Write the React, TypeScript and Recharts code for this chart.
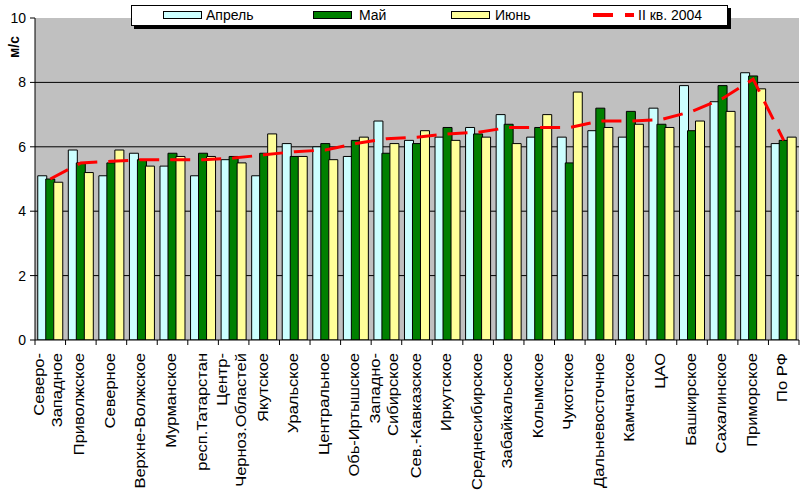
import React from 'react';
import { ComposedChart, Bar, Line, XAxis, YAxis, CartesianGrid } from 'recharts';

const categories = [
  'Северо-\nЗападное', 'Приволжское', 'Северное', 'Верхне-Волжское', 'Мурманское',
  'респ.Татарстан', 'Центр-\nЧерноз.Областей', 'Якутское', 'Уральское', 'Центральное',
  'Обь-Иртышское', 'Западно-\nСибирское', 'Сев.-Кавказское', 'Иркутское', 'Среднесибирское',
  'Забайкальское', 'Колымское', 'Чукотское', 'Дальневосточное', 'Камчатское',
  'ЦАО', 'Башкирское', 'Сахалинское', 'Приморское', 'По РФ',
];
const april = [5.1, 5.9, 5.1, 5.8, 5.4, 5.1, 5.6, 5.1, 6.1, 6.0, 5.7, 6.8, 6.2, 6.3, 6.6, 7.0, 6.3, 6.3, 6.5, 6.3, 7.2, 7.9, 7.4, 8.3, 6.1];
const may = [5.0, 5.5, 5.5, 5.6, 5.8, 5.8, 5.7, 5.8, 5.7, 6.1, 6.2, 5.8, 6.1, 6.6, 6.4, 6.7, 6.6, 5.5, 7.2, 7.1, 6.7, 6.5, 7.9, 8.2, 6.2];
const june = [4.9, 5.2, 5.9, 5.4, 5.7, 5.7, 5.5, 6.4, 5.7, 5.6, 6.3, 6.1, 6.5, 6.2, 6.3, 6.1, 7.0, 7.7, 6.6, 6.7, 6.6, 6.8, 7.1, 7.8, 6.3];
const quarter = [5.0, 5.5, 5.55, 5.6, 5.6, 5.6, 5.65, 5.75, 5.85, 5.9, 6.1, 6.25, 6.3, 6.4, 6.45, 6.6, 6.6, 6.6, 6.8, 6.8, 6.85, 7.1, 7.5, 8.1, 6.2];
const yTicks = [0, 2, 4, 6, 8, 10];
const gridValues = [2, 4, 6, 8];
const seriesNames = ['Апрель', 'Май', 'Июнь', 'II кв. 2004'];
const yTitle = 'м/с';

const data = categories.map((c, i) => ({
  name: c,
  april: april[i],
  may: may[i],
  june: june[i],
  quarter: quarter[i],
}));

const FONT = '"Liberation Sans", Arial, sans-serif';
const W = 804;
const H = 492;
const PLOT_LEFT = 35;
const PLOT_RIGHT = 799;
const PLOT_TOP = 18;
const PLOT_BOTTOM = 340;
const BAND = (PLOT_RIGHT - PLOT_LEFT) / categories.length;

const COLORS = ['#CCFFFF', '#008000', '#FFFF99', '#FF0000'];

function XTick(props: any) {
  const { x, payload, index } = props;
  const lines = String(payload.value).split('\n');
  const isLast = index === categories.length - 1;
  const offsets = lines.length === 1 ? [3.5] : [-6.5, 12];
  return (
    <g>
      <line x1={x - BAND / 2} x2={x - BAND / 2} y1={PLOT_BOTTOM} y2={PLOT_BOTTOM + 5} stroke="#000" />
      {isLast && <line x1={x + BAND / 2} x2={x + BAND / 2} y1={PLOT_BOTTOM} y2={PLOT_BOTTOM + 5} stroke="#000" />}
      {lines.map((l, i) => (
        <text
          key={i}
          transform={`translate(${x + offsets[i]}, ${PLOT_BOTTOM + 13}) rotate(-90) scale(1.1, 1)`}
          textAnchor="end"
          fontSize={15}
          fontFamily={FONT}
          fill="#000"
        >
          {l}
        </text>
      ))}
    </g>
  );
}

function LegendBox() {
  const items = [
    { x: 163, textX: 206 },
    { x: 313, textX: 359 },
    { x: 451, textX: 495 },
    { x: 593, textX: 638 },
  ];
  return (
    <svg
      width={610}
      height={30}
      style={{ position: 'absolute', left: 128, top: 2, overflow: 'visible' }}
    >
      <g transform="translate(-128,-2)">
        <rect x={134} y={8} width={597} height={21} fill="#000" />
        <rect x={131.5} y={5.5} width={596} height={20} fill="#fff" stroke="#000" strokeWidth={1} />
        {seriesNames.map((n, i) => (
          <g key={n}>
            {i < 3 ? (
              <rect x={items[i].x + 0.5} y={11.5} width={38} height={7} fill={COLORS[i]} stroke="#000" />
            ) : (
              <g>
                <line x1={items[i].x} x2={items[i].x + 20} y1={15} y2={15} stroke={COLORS[3]} strokeWidth={4} />
                <line x1={items[i].x + 32} x2={items[i].x + 41} y1={15} y2={15} stroke={COLORS[3]} strokeWidth={4} />
              </g>
            )}
            <text x={items[i].textX} y={20} fontSize={14} fontFamily={FONT} fill="#000">{n}</text>
          </g>
        ))}
      </g>
    </svg>
  );
}

export default function App() {
  return (
    <div style={{ position: 'absolute', left: 0, top: 0, width: W, height: H, background: '#fff', fontFamily: FONT }}>
      <ComposedChart
        width={W}
        height={H}
        data={data}
        margin={{ top: PLOT_TOP, right: W - PLOT_RIGHT, left: 0, bottom: 0 }}
        barCategoryGap="9%"
        barGap={-1}
      >
        <CartesianGrid
          fill="#C0C0C0"
          vertical={false}
          horizontalValues={gridValues}
          stroke="#000"
          strokeWidth={1}
        />
        <XAxis
          dataKey="name"
          interval={0}
          height={H - PLOT_BOTTOM}
          axisLine={{ stroke: '#000' }}
          tickLine={false}
          tick={<XTick />}
        />
        <YAxis
          width={PLOT_LEFT}
          domain={[0, 10]}
          ticks={yTicks}
          allowDataOverflow
          axisLine={{ stroke: '#000' }}
          tickLine={{ stroke: '#000' }}
          tickSize={5}
          tickMargin={4}
          tick={{ fill: '#000', fontSize: 14, fontFamily: FONT }}
          label={{
            content: () => (
              <text
                x={19}
                y={47}
                transform="rotate(-90 19 47)"
                textAnchor="middle"
                fontSize={14}
                fontWeight="bold"
                fontFamily={FONT}
                fill="#000"
              >
                {yTitle}
              </text>
            ),
          }}
        />
        <Bar dataKey="april" name={seriesNames[0]} fill={COLORS[0]} stroke="#000" strokeWidth={1} isAnimationActive={false} />
        <Bar dataKey="may" name={seriesNames[1]} fill={COLORS[1]} stroke="#000" strokeWidth={1} isAnimationActive={false} />
        <Bar dataKey="june" name={seriesNames[2]} fill={COLORS[2]} stroke="#000" strokeWidth={1} isAnimationActive={false} />
        <Line
          type="linear"
          dataKey="quarter"
          name={seriesNames[3]}
          stroke={COLORS[3]}
          strokeWidth={3}
          strokeDasharray="20 11"
          dot={false}
          activeDot={false}
          isAnimationActive={false}
        />
      </ComposedChart>
      <LegendBox />
    </div>
  );
}
